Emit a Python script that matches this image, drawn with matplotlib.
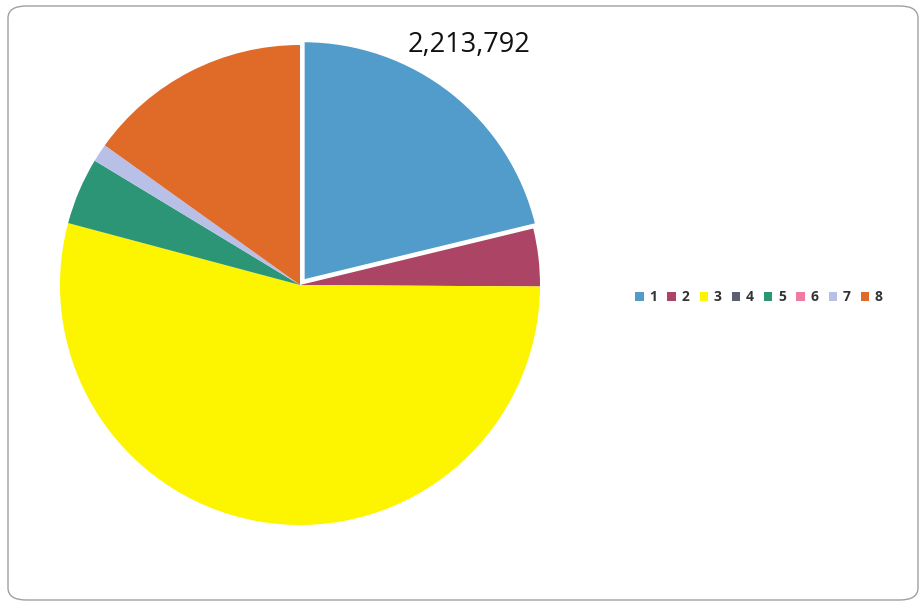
import matplotlib
matplotlib.use("Agg")
import matplotlib.pyplot as plt
from matplotlib.patches import FancyBboxPatch

categories = ["1", "2", "3", "4", "5", "6", "7", "8"]
values = [2213792, 405000, 5640000, 0, 471000, 0, 127000, 1577000]
label_text = ["2,213,792", "", "", "", "", "", "", ""]
colors = ["#519ccb", "#ac4466", "#fdf400", "#5b6070", "#2c9576", "#ef7ba0", "#b8c0e8", "#e06a28"]

W, H = 924, 605
fig = plt.figure(figsize=(W / 100, H / 100), dpi=100)
fig.patch.set_facecolor("white")

# rounded frame
frame = FancyBboxPatch((8 / W, 5 / H), (918 - 8) / W, (599 - 5) / H,
                       boxstyle="round,pad=0,rounding_size=0.02",
                       transform=fig.transFigure, facecolor="none",
                       edgecolor="#a0a0a0", linewidth=1.0, zorder=-1)
fig.patches.append(frame)

cx, cy, r = 300, 605 - 285, 240
ax = fig.add_axes([(cx - r) / W, (cy - r) / H, 2 * r / W, 2 * r / H])
explode = [0.022, 0, 0, 0, 0, 0, 0, 0]
wedges, _ = ax.pie(values, colors=colors, startangle=90, counterclock=False,
                   explode=explode, radius=1.0,
                   wedgeprops=dict(linewidth=0))
wedges[0].set_edgecolor("white")
wedges[0].set_linewidth(2.0)
ax.set_xlim(-1, 1)
ax.set_ylim(-1, 1)
ax.set_aspect("equal")
ax.axis("off")

fig.text(469 / W, 1 - 45 / H, label_text[0], ha="center", va="center",
         fontsize=19.5, family="Open Sans", color="#111111")

handles = [plt.Rectangle((0, 0), 1, 1, facecolor=c, edgecolor="none") for c in colors]
leg = fig.legend(handles, categories, loc="center", bbox_to_anchor=(759 / W, 1 - 297 / H),
                 ncol=8, frameon=False, handlelength=0.6, handleheight=0.6,
                 handletextpad=0.4, columnspacing=0.75,
                 prop=dict(family="Open Sans", size=10, weight="bold"))
for t in leg.get_texts():
    t.set_color("#333333")

fig.savefig("out.png", dpi=100)
